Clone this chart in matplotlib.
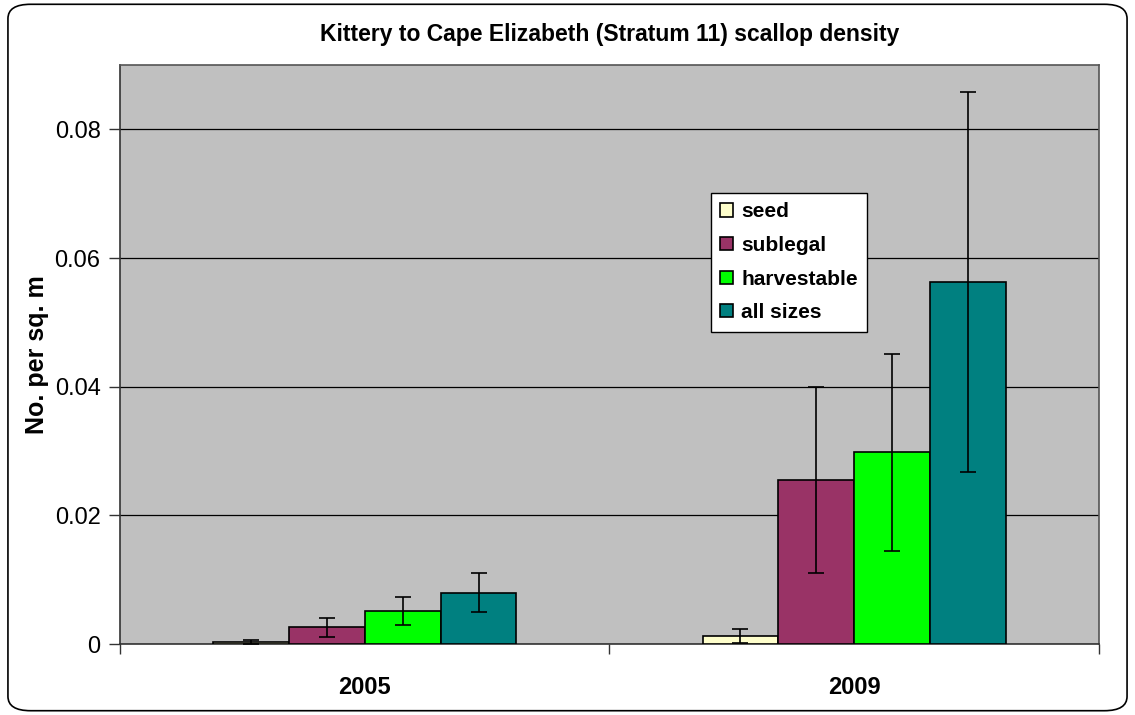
import matplotlib.pyplot as plt
import numpy as np
from matplotlib.patches import FancyBboxPatch

plt.rcParams['font.family'] = ['Liberation Sans', 'DejaVu Sans']

years = ["2005", "2009"]
sizes = ["seed", "sublegal", "harvestable", "all sizes"]
colors = ["#FFFFCC", "#993366", "#00FF00", "#008080"]

density = {
    "seed":        [0.0003, 0.0013],
    "sublegal":    [0.0026, 0.0255],
    "harvestable": [0.0051, 0.0298],
    "all sizes":   [0.0080, 0.0563],
}
err = {
    "seed":        [0.0003, 0.0011],
    "sublegal":    [0.0015, 0.0145],
    "harvestable": [0.0022, 0.0153],
    "all sizes":   [0.0031, 0.0295],
}

fig = plt.figure(figsize=(11.35, 7.15), dpi=100)
ax = fig.add_axes([0.1057, 0.0993, 0.8626, 0.8097])

# rounded frame round the whole chart
frame = FancyBboxPatch((0.007, 0.006), 0.986, 0.988,
                       boxstyle="round,pad=0,rounding_size=0.02",
                       transform=fig.transFigure, fill=False,
                       edgecolor="black", linewidth=1.2, zorder=0)
fig.patches.append(frame)

x = np.arange(len(years))
w = 0.155
for i, s in enumerate(sizes):
    ax.bar(x + (i - 1.5) * w, density[s], w, color=colors[i],
           edgecolor="black", linewidth=1.2, label=s, zorder=3,
           yerr=err[s], error_kw=dict(ecolor="black", elinewidth=1.2,
                                      capsize=6, capthick=1.2, zorder=4))

ax.set_facecolor("#C0C0C0")
ax.set_xlim(-0.5, 1.5)
ax.set_ylim(0, 0.09)
ax.set_yticks([0, 0.02, 0.04, 0.06, 0.08])
ax.set_yticklabels(["0", "0.02", "0.04", "0.06", "0.08"], fontsize=17)
ax.yaxis.grid(True, color="black", linewidth=0.9, zorder=1)
ax.set_axisbelow(True)

ax.set_xticks(x)
ax.set_xticklabels(years, fontsize=17, fontweight="bold")
ax.tick_params(axis="x", which="major", length=0, pad=23)
ax.set_xticks([-0.5, 0.5, 1.5], minor=True)
ax.tick_params(axis="x", which="minor", length=7, width=1, color="#333333")
ax.tick_params(axis="y", length=8, width=1, color="#333333", pad=6)

for side in ["top", "right"]:
    ax.spines[side].set_color("#555555")
    ax.spines[side].set_linewidth(1.2)
for side in ["left", "bottom"]:
    ax.spines[side].set_color("#333333")
    ax.spines[side].set_linewidth(1.2)

ax.set_ylabel("No. per sq. m", fontsize=18, fontweight="bold", labelpad=4)
ax.set_title("Kittery to Cape Elizabeth (Stratum 11) scallop density",
             fontsize=16.5, fontweight="bold", pad=17)

leg = ax.legend(loc="upper left", bbox_to_anchor=(0.6037, 0.779),
                frameon=True, fancybox=False, edgecolor="black",
                framealpha=1, prop=dict(size=15, weight="bold"),
                handlelength=0.6, handleheight=0.6, handletextpad=0.4,
                labelspacing=0.7, borderpad=0.45, borderaxespad=0)
leg.get_frame().set_linewidth(1)

fig.savefig("out.png", dpi=100)
